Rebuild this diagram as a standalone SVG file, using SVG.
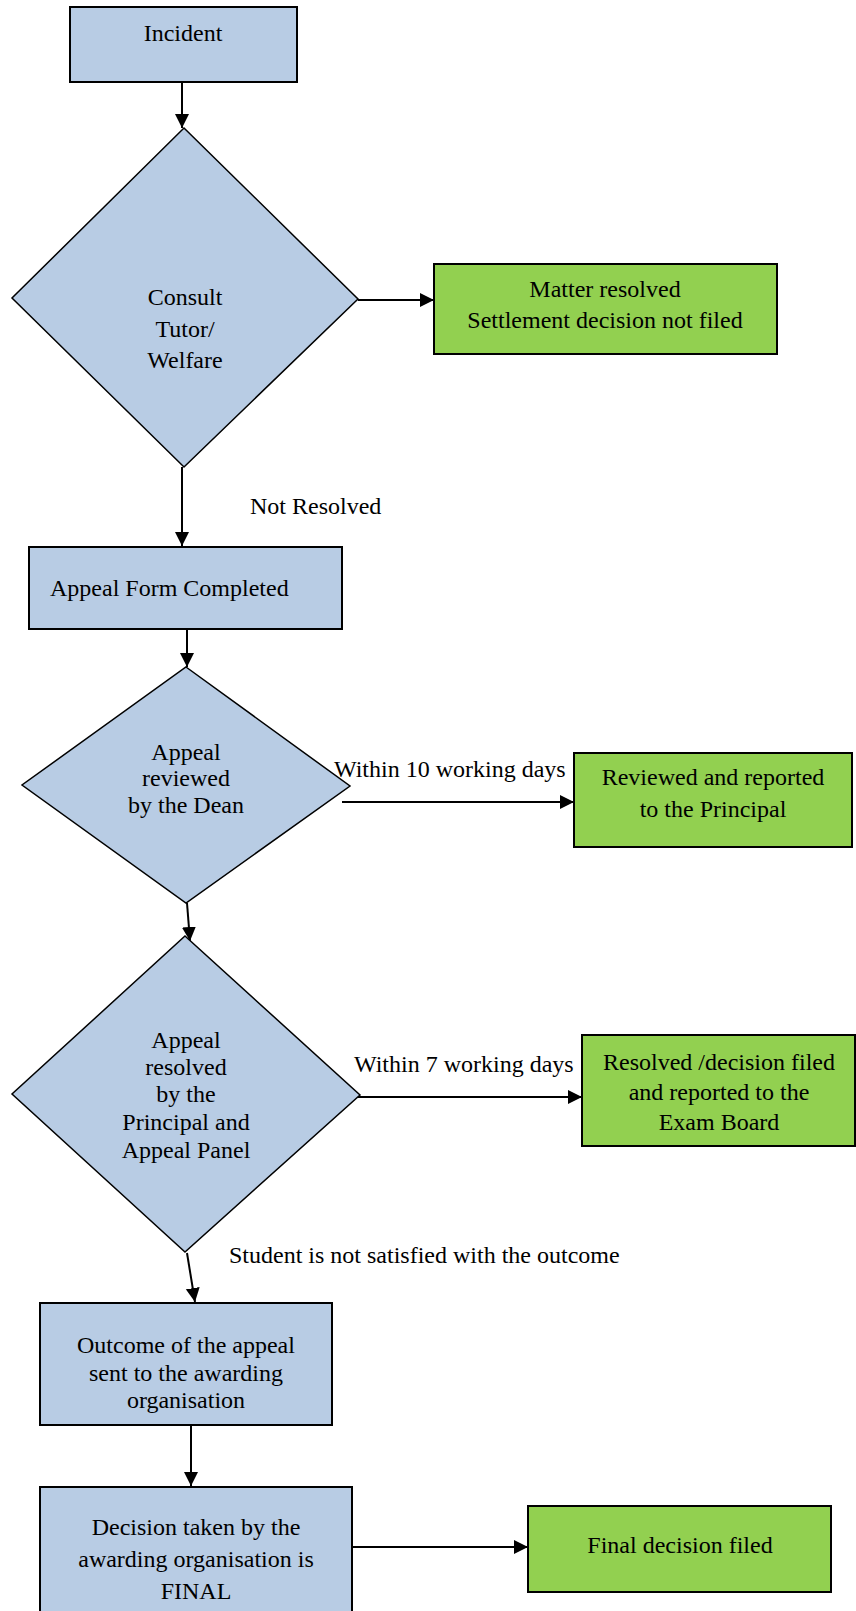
<svg xmlns="http://www.w3.org/2000/svg" width="856" height="1611" viewBox="0 0 856 1611">
<style>
  .blue { fill: #B8CCE4; stroke: #000; stroke-width: 2; }
  .green { fill: #92D050; stroke: #000; stroke-width: 2; }
  .dia { fill: #B8CCE4; stroke: #000; stroke-width: 1.5; }
  .t { font-family: "Liberation Serif", "Times New Roman", serif; font-size: 24px; fill: #000; }
  .c { text-anchor: middle; }
  .edge { stroke: #000; stroke-width: 2; fill: none; marker-end: url(#arr); }
</style>
<defs>
  <marker id="arr" markerUnits="userSpaceOnUse" markerWidth="15" markerHeight="15" refX="14" refY="7" orient="auto">
    <path d="M0,0 L14,7 L0,14 z" fill="#000"/>
  </marker>
</defs>
<rect width="856" height="1611" fill="#fff"/>

<g id="connectors">
  <line class="edge" x1="182" y1="82" x2="182" y2="128"/>
  <line class="edge" x1="358" y1="300" x2="434" y2="300"/>
  <line class="edge" x1="182" y1="467" x2="182" y2="546"/>
  <line class="edge" x1="187" y1="609" x2="187" y2="667"/>
  <line class="edge" x1="342" y1="802" x2="574" y2="802"/>
  <line class="edge" x1="187" y1="903" x2="190" y2="941"/>
  <line class="edge" x1="350" y1="1097" x2="582" y2="1097"/>
  <line class="edge" x1="187" y1="1253" x2="195" y2="1302"/>
  <line class="edge" x1="191" y1="1425" x2="191" y2="1486"/>
  <line class="edge" x1="352" y1="1547" x2="528" y2="1547"/>
  <text class="t" x="250" y="514">Not Resolved</text>
  <text class="t" x="334" y="777">Within 10 working days</text>
  <text class="t" x="354" y="1072">Within 7 working days</text>
  <text class="t" x="229" y="1263">Student is not satisfied with the outcome</text>
</g>

<g id="incident">
  <rect class="blue" x="70" y="7" width="227" height="75"/>
  <text class="t c" x="183" y="41">Incident</text>
</g>

<g id="consult">
  <polygon class="dia" points="184,128 358,299 184,467 12,298"/>
  <text class="t c" x="185" y="305">Consult</text>
  <text class="t c" x="185" y="337">Tutor/</text>
  <text class="t c" x="185" y="368">Welfare</text>
</g>

<g id="matter-resolved">
  <rect class="green" x="434" y="264" width="343" height="90"/>
  <text class="t c" x="605" y="297">Matter resolved</text>
  <text class="t c" x="605" y="328">Settlement decision not filed</text>
</g>

<g id="appeal-form">
  <rect class="blue" x="29" y="547" width="313" height="82"/>
  <text class="t" x="50" y="596">Appeal Form Completed</text>
</g>

<g id="dean">
  <polygon class="dia" points="186,667 350,786 186,903 22,785"/>
  <text class="t c" x="186" y="760">Appeal</text>
  <text class="t c" x="186" y="786">reviewed</text>
  <text class="t c" x="186" y="813">by the Dean</text>
</g>

<g id="reviewed">
  <rect class="green" x="574" y="753" width="278" height="94"/>
  <text class="t c" x="713" y="785">Reviewed and reported</text>
  <text class="t c" x="713" y="817">to the Principal</text>
</g>

<g id="principal">
  <polygon class="dia" points="185,936 360,1095 185,1252 12,1094"/>
  <text class="t c" x="186" y="1048">Appeal</text>
  <text class="t c" x="186" y="1075">resolved</text>
  <text class="t c" x="186" y="1102">by the</text>
  <text class="t c" x="186" y="1130">Principal and</text>
  <text class="t c" x="186" y="1158">Appeal Panel</text>
</g>

<g id="resolved-filed">
  <rect class="green" x="582" y="1035" width="273" height="111"/>
  <text class="t c" x="719" y="1070">Resolved /decision filed</text>
  <text class="t c" x="719" y="1100">and reported to the</text>
  <text class="t c" x="719" y="1130">Exam Board</text>
</g>

<g id="outcome">
  <rect class="blue" x="40" y="1303" width="292" height="122"/>
  <text class="t c" x="186" y="1353">Outcome of the appeal</text>
  <text class="t c" x="186" y="1381">sent to the awarding</text>
  <text class="t c" x="186" y="1408">organisation</text>
</g>

<g id="final">
  <rect class="blue" x="40" y="1487" width="312" height="130"/>
  <text class="t c" x="196" y="1535">Decision taken by the</text>
  <text class="t c" x="196" y="1567">awarding organisation is</text>
  <text class="t c" x="196" y="1599">FINAL</text>
</g>

<g id="final-filed">
  <rect class="green" x="528" y="1506" width="303" height="86"/>
  <text class="t c" x="680" y="1553">Final decision filed</text>
</g>
</svg>
